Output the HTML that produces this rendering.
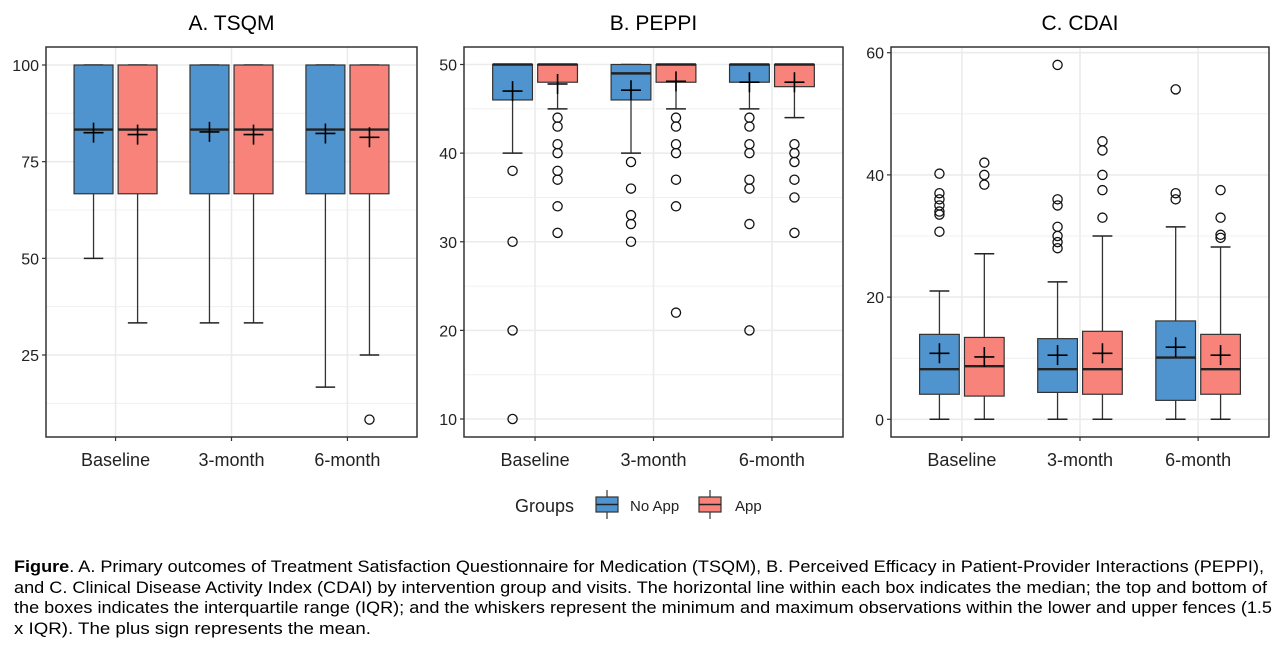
<!DOCTYPE html>
<html><head><meta charset="utf-8"><style>
body{margin:0;background:#fff;width:1280px;height:655px;overflow:hidden;font-family:"Liberation Sans",Arial,sans-serif}
</style></head><body>
<svg id="chart" width="1280" height="655" style="position:absolute;left:0;top:0" font-family="Liberation Sans, Arial, sans-serif">
<g font-size="17" fill="#000">
<text x="14" y="572" textLength="1250" lengthAdjust="spacingAndGlyphs"><tspan font-weight="bold">Figure</tspan>. A. Primary outcomes of Treatment Satisfaction Questionnaire for Medication (TSQM), B. Perceived Efficacy in Patient-Provider Interactions (PEPPI),</text>
<text x="14" y="593" textLength="1253" lengthAdjust="spacingAndGlyphs">and C. Clinical Disease Activity Index (CDAI) by intervention group and visits. The horizontal line within each box indicates the median; the top and bottom of</text>
<text x="14" y="613" textLength="1258" lengthAdjust="spacingAndGlyphs">the boxes indicates the interquartile range (IQR); and the whiskers represent the minimum and maximum observations within the lower and upper fences (1.5</text>
<text x="14" y="634" textLength="357" lengthAdjust="spacingAndGlyphs">x IQR). The plus sign represents the mean.</text>
</g>
</svg>
<script>
const categories=["Baseline","3-month","6-month"];
const groups=["No App","App"];
// stats per panel: [cat][group] = [lo,q1,med,q3,hi,mean]
const tsqmStats=[[[50,66.7,83.3,100,100,82.5],[33.3,66.7,83.3,100,100,82]],[[33.3,66.7,83.3,100,100,82.7],[33.3,66.7,83.3,100,100,82]],[[16.7,66.7,83.3,100,100,82.3],[25,66.7,83.3,100,100,81.3]]];
const tsqmOut=[[[],[]],[[],[]],[[],[8.3]]];
const peppiStats=[[[40,46,50,50,50,47],[45,48,50,50,50,47.8]],[[40,46,49,50,50,47.1],[45,48,50,50,50,48.1]],[[45,48,50,50,50,48],[44,47.5,50,50,50,48]]];
const peppiOut=[[[38,30,20,10],[44,43,41,40,38,37,34,31]],[[39,36,33,32,30],[44,43,41,40,37,34,22]],[[44,43,41,40,37,36,32,20],[41,40,39,37,35,31]]];
const cdaiStats=[[[0,4.1,8.2,13.9,21,10.8],[0,3.8,8.7,13.4,27.1,10.2]],[[0,4.4,8.2,13.2,22.5,10.5],[0,4.1,8.2,14.4,30,10.8]],[[0,3.1,10.1,16.1,31.5,11.8],[0,4.1,8.2,13.9,28.2,10.5]]];
const cdaiOut=[[[40.2,37,36,35,34,33.5,30.7],[42,40,38.4]],[[58,36,35,31.5,30,29,28],[45.5,44,40,37.5,33]],[[54,37,36],[37.5,33,30.2,29.7]]];
const tsqmTicks=[25,50,75,100], peppiTicks=[10,20,30,40,50], cdaiTicks=[0,20,40,60];
const colors=["#4f94cf","#f8837a"];
const NS="http://www.w3.org/2000/svg";
const svg=document.getElementById('chart');
function mk(t,a,p){const e=document.createElementNS(NS,t);for(const k in a)e.setAttribute(k,a[k]);(p||svg).appendChild(e);return e;}
function panel(cfg){
  const g=mk('g',{});
  
  
  const {x0,x1,top,bot,vmin,vmax,ymin,ymax}=cfg;
  const y=v=>ymax+(vmax-v)*(ymin-ymax)/(vmax-vmin);
  const u=(x1-x0)/3.2;
  const xc=i=>x0+u*(i+0.6);
  const minors=[];
  for(let i=0;i<cfg.ticks.length-1;i++)minors.push((cfg.ticks[i]+cfg.ticks[i+1])/2);
  if(cfg.extraMinor)cfg.extraMinor.forEach(m=>minors.push(m));
  minors.forEach(v=>{mk('line',{x1:x0,x2:x1,y1:y(v),y2:y(v),stroke:'#f0f0f0','stroke-width':1},g);});
  cfg.ticks.forEach(v=>{mk('line',{x1:x0,x2:x1,y1:y(v),y2:y(v),stroke:'#ebebeb','stroke-width':1.6},g);});
  categories.forEach((c,i)=>{mk('line',{x1:xc(i),x2:xc(i),y1:top,y2:bot,stroke:'#ebebeb','stroke-width':1.6},g);});
  const hw=u*0.168, off=u*0.19;
  cfg.stats.forEach((cs,i)=>{cs.forEach((s,j)=>{
    const cx=xc(i)+(j===0?-off:off);
    const b=mk('g',{},g);
    
    
    const [lo,q1,med,q3,hi,mean]=s;
    mk('line',{x1:cx,x2:cx,y1:y(hi),y2:y(q3),stroke:'#333','stroke-width':1.3},b);
    mk('line',{x1:cx,x2:cx,y1:y(q1),y2:y(lo),stroke:'#333','stroke-width':1.3},b);
    mk('line',{x1:cx-hw*0.5,x2:cx+hw*0.5,y1:y(lo),y2:y(lo),stroke:'#222','stroke-width':1.5},b);
    mk('line',{x1:cx-hw*0.5,x2:cx+hw*0.5,y1:y(hi),y2:y(hi),stroke:'#222','stroke-width':1.5},b);
    mk('rect',{x:cx-hw,y:y(q3),width:2*hw,height:Math.max(0.5,y(q1)-y(q3)),fill:colors[j],stroke:'#333','stroke-width':1.2},b);
    mk('line',{x1:cx-hw,x2:cx+hw,y1:y(med),y2:y(med),stroke:'#222','stroke-width':2.4},b);
    cfg.out[i][j].forEach(v=>{const c=mk('circle',{cx:cx,cy:y(v),r:4.6,fill:'none',stroke:'#111','stroke-width':1.3},b);});
    const m=y(mean);
    const mm=mk('path',{d:`M${cx-10},${m}H${cx+10}M${cx},${m-10}V${m+10}`,stroke:'#000','stroke-width':1.6},b);
    
    
  });});
  mk('rect',{x:x0,y:top,width:x1-x0,height:bot-top,fill:'none',stroke:'#333','stroke-width':1.5},g);
  cfg.ticks.forEach(v=>{
    mk('line',{x1:x0-4,x2:x0,y1:y(v),y2:y(v),stroke:'#333','stroke-width':1.2},g);
    const t=mk('text',{x:x0-7,y:y(v)+6,'text-anchor':'end','font-size':16,fill:'#222'},g);t.textContent=v;
    
  });
  categories.forEach((c,i)=>{
    mk('line',{x1:xc(i),x2:xc(i),y1:bot,y2:bot+4,stroke:'#333','stroke-width':1.2},g);
    const t=mk('text',{x:xc(i),y:bot+29,'text-anchor':'middle','font-size':18,fill:'#222'},g);t.textContent=c;
    
  });
  const tt=mk('text',{x:(x0+x1)/2,y:30,'text-anchor':'middle','font-size':21,fill:'#000'},g);tt.textContent=cfg.title;
  
}
panel({name:'panel-a-tsqm',key:'tsqm',title:'A. TSQM',x0:46,x1:417,top:47,bot:437,vmin:25,vmax:100,ymin:355,ymax:65,ticks:tsqmTicks,extraMinor:[12.5],stats:tsqmStats,out:tsqmOut});
panel({name:'panel-b-peppi',key:'peppi',title:'B. PEPPI',x0:464,x1:843,top:47,bot:437,vmin:10,vmax:50,ymin:419,ymax:64.5,ticks:peppiTicks,stats:peppiStats,out:peppiOut});
panel({name:'panel-c-cdai',key:'cdai',title:'C. CDAI',x0:891,x1:1269,top:47,bot:437,vmin:0,vmax:60,ymin:419.3,ymax:52.7,ticks:cdaiTicks,stats:cdaiStats,out:cdaiOut});
const lg=mk('g',{});


const lt=mk('text',{x:515,y:512,'font-size':18,fill:'#222'},lg);lt.textContent='Groups';
[[596,'No App',630],[699,'App',735]].forEach((d,j)=>{
  const k=mk('g',{},lg);
  
  
  const cx=d[0]+11;
  mk('line',{x1:cx,x2:cx,y1:490,y2:519,stroke:'#333','stroke-width':1.2},k);
  mk('rect',{x:d[0],y:497,width:22,height:15,fill:colors[j],stroke:'#333','stroke-width':1.2},k);
  mk('line',{x1:d[0],x2:d[0]+22,y1:504.5,y2:504.5,stroke:'#222','stroke-width':1.6},k);
  const t=mk('text',{x:d[2],y:511,'font-size':15,fill:'#222'},k);t.textContent=d[1];
});
</script>
</body></html>
